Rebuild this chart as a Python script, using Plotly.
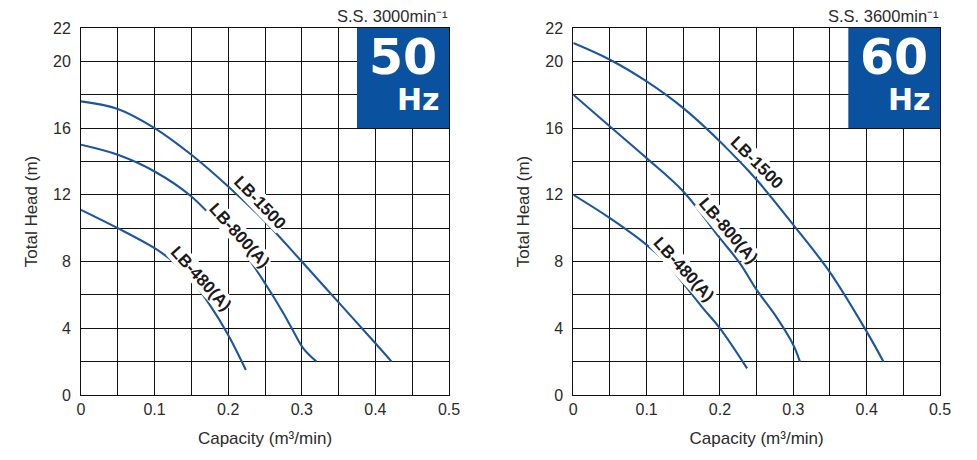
import plotly.graph_objects as go

# ---- data (50 Hz) ----
q_1500_50 = [0, 0.05, 0.1, 0.15, 0.2, 0.25, 0.3, 0.35, 0.4, 0.422]
h_1500_50 = [17.6, 17.15, 16.0, 14.4, 12.5, 10.4, 8.0, 5.55, 3.1, 2.0]
q_800_50 = [0, 0.05, 0.1, 0.15, 0.2, 0.227, 0.25, 0.275, 0.29, 0.302, 0.32]
h_800_50 = [15.0, 14.4, 13.4, 11.9, 9.6, 8.2, 6.7, 4.9, 3.7, 2.8, 2.0]
q_480_50 = [0, 0.05, 0.1, 0.125, 0.15, 0.175, 0.2, 0.224]
h_480_50 = [11.1, 10.0, 8.8, 8.0, 6.9, 5.4, 3.6, 1.5]

# ---- data (60 Hz) ----
q_1500_60 = [0, 0.05, 0.1, 0.15, 0.2, 0.25, 0.3, 0.35, 0.4, 0.423]
h_1500_60 = [21.1, 20.1, 18.8, 17.2, 15.2, 12.9, 10.2, 7.35, 3.8, 2.0]
q_800_60 = [0, 0.05, 0.1, 0.15, 0.2, 0.227, 0.25, 0.275, 0.3, 0.309]
h_800_60 = [18.0, 16.1, 14.2, 12.2, 9.4, 7.9, 6.3, 4.8, 3.0, 2.0]
q_480_60 = [0, 0.05, 0.1, 0.125, 0.15, 0.175, 0.2, 0.237]
h_480_60 = [12.0, 10.6, 9.0, 8.0, 6.7, 5.3, 4.0, 1.6]

model_names = ["LB-1500", "LB-800(A)", "LB-480(A)"]
x_tick_vals = [0, 0.1, 0.2, 0.3, 0.4, 0.5]
x_tick_text = ["0", "0.1", "0.2", "0.3", "0.4", "0.5"]
y_tick_vals = [0, 4, 8, 12, 16, 20, 22]
speed_text = ["S.S. 3000min⁻¹", "S.S. 3600min⁻¹"]
freq_text = ["50", "60"]

LINE = "#1c56a0"
BOX = "#0a52a0"
GRID = "#111111"
TXT = "#2b2b2b"
FONT = "Arial, Liberation Sans, sans-serif"

fig = go.Figure()

series = [
    (q_1500_50, h_1500_50, "x", "y"),
    (q_800_50, h_800_50, "x", "y"),
    (q_480_50, h_480_50, "x", "y"),
    (q_1500_60, h_1500_60, "x2", "y2"),
    (q_800_60, h_800_60, "x2", "y2"),
    (q_480_60, h_480_60, "x2", "y2"),
]
for q, h, xa, ya in series:
    fig.add_trace(go.Scatter(x=q, y=h, mode="lines", xaxis=xa, yaxis=ya,
                             line=dict(color=LINE, width=2.1, shape="spline", smoothing=1.0),
                             showlegend=False, hoverinfo="skip"))

xcommon = dict(range=[0, 0.5], tickvals=x_tick_vals, ticktext=x_tick_text,
               showgrid=True, gridcolor=GRID, gridwidth=1,
               minor=dict(dtick=0.05, showgrid=True, gridcolor=GRID, gridwidth=1),
               showline=True, linecolor=GRID, linewidth=1, mirror=True,
               zeroline=False, ticks="", ticklabelstandoff=0, automargin=False,
               tickfont=dict(family=FONT, size=16, color=TXT),
               title=dict(text="Capacity (m³/min)", font=dict(family=FONT, size=17, color=TXT), standoff=14),
               fixedrange=True)
ycommon = dict(range=[0, 22], tickvals=y_tick_vals,
               showgrid=True, gridcolor=GRID, gridwidth=1,
               minor=dict(dtick=2, showgrid=True, gridcolor=GRID, gridwidth=1),
               showline=True, linecolor=GRID, linewidth=1, mirror=True,
               zeroline=False, ticks="", ticklabelstandoff=6, automargin=False,
               tickfont=dict(family=FONT, size=16, color=TXT),
               title=dict(text="Total Head (m)", font=dict(family=FONT, size=17, color=TXT), standoff=11),
               fixedrange=True)

# page body has an 8px margin, so the figure is sized to fit inside the window
fig.update_layout(
    width=961, height=444,
    margin=dict(l=73, r=29, t=20, b=57, autoexpand=False),
    paper_bgcolor="white", plot_bgcolor="white",
    xaxis=dict(domain=[0, 0.4284], anchor="y", **xcommon),
    yaxis=dict(domain=[0, 1], anchor="x", **ycommon),
    xaxis2=dict(domain=[0.5731, 1], anchor="y2", **xcommon),
    yaxis2=dict(domain=[0, 1], anchor="x2", **ycommon),
)

# Hz boxes and texts
for i, (xr, yr) in enumerate([("x", "y"), ("x2", "y2")]):
    fig.add_shape(type="rect", xref=xr, yref=yr, x0=0.375, x1=0.5, y0=16, y1=22,
                  fillcolor=BOX, line=dict(width=0), layer="above")
    fig.add_annotation(xref=xr, yref=yr, x=0.4375, y=20.22, text="<b>" + freq_text[i] + "</b>",
                       showarrow=False, font=dict(family="DejaVu Sans", size=49, color="white"))
    fig.add_annotation(xref=xr, yref=yr, x=0.459, y=17.7, text="<b>Hz</b>",
                       showarrow=False, font=dict(family="DejaVu Sans", size=30, color="white"))
    fig.add_annotation(xref=xr, yref=yr, x=0.5, y=22, xanchor="right", yanchor="bottom",
                       text=speed_text[i], showarrow=False, yshift=2, borderpad=0,
                       font=dict(family=FONT, size=16.5, color=TXT))

# curve labels
label_pos = [
    ("x", "y", 0.243, 11.55, 46),
    ("x", "y", 0.215, 9.55, 47.5),
    ("x", "y", 0.163, 7.0, 47.5),
    ("x2", "y2", 0.250, 13.95, 45),
    ("x2", "y2", 0.211, 9.85, 49.5),
    ("x2", "y2", 0.151, 7.55, 47.5),
]
for k, (xr, yr, lx, ly, ang) in enumerate(label_pos):
    fig.add_annotation(xref=xr, yref=yr, x=lx, y=ly, text="<b>" + model_names[k % 3] + "</b>",
                       textangle=ang, showarrow=False, bgcolor="white", borderpad=0,
                       font=dict(family=FONT, size=17, color="#1a1a1a"))

fig.write_html("out.html")
